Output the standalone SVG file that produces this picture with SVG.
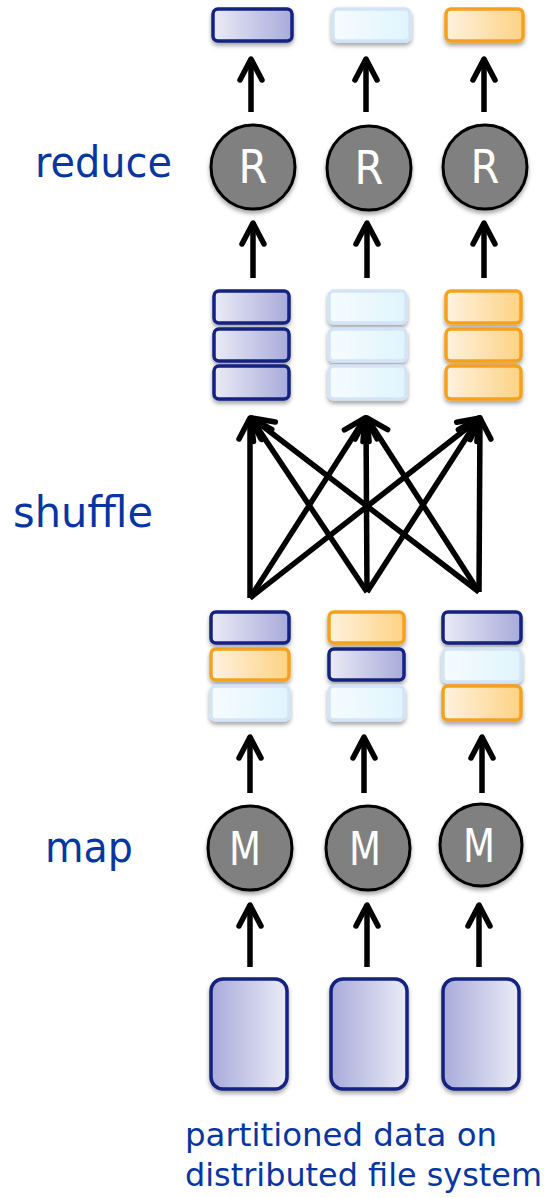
<svg xmlns="http://www.w3.org/2000/svg" width="548" height="1198" viewBox="0 0 548 1198">
  <defs>
    <linearGradient id="gBlue" x1="0" y1="0" x2="1" y2="0">
      <stop offset="0" stop-color="#ebebf6"/>
      <stop offset="1" stop-color="#a8abda"/>
    </linearGradient>
    <linearGradient id="gBlueRev" x1="0" y1="0" x2="1" y2="0">
      <stop offset="0" stop-color="#a8abda"/>
      <stop offset="1" stop-color="#ebebf6"/>
    </linearGradient>
    <linearGradient id="gLight" x1="0" y1="0" x2="1" y2="0">
      <stop offset="0" stop-color="#f6fcff"/>
      <stop offset="1" stop-color="#e0f4fd"/>
    </linearGradient>
    <linearGradient id="gOrange" x1="0" y1="0" x2="1" y2="0">
      <stop offset="0" stop-color="#fff2e0"/>
      <stop offset="1" stop-color="#fdd284"/>
    </linearGradient>
    <filter id="shadow" x="-20%" y="-20%" width="140%" height="160%">
      <feDropShadow dx="0" dy="3" stdDeviation="2" flood-color="#000" flood-opacity="0.35"/>
    </filter>
    <marker id="head" viewBox="-28 -15 32 30" refX="0" refY="0" markerWidth="32" markerHeight="30" markerUnits="userSpaceOnUse" orient="auto">
      <path d="M -21 -11 L 0 0 L -21 11" fill="none" stroke="#000" stroke-width="5.5" stroke-linecap="round" stroke-linejoin="round"/>
    </marker>
    <style>
      .blue { fill: url(#gBlue); stroke: #13217f; stroke-width: 3.5; filter: url(#shadow); }
      .light { fill: url(#gLight); stroke: #d3e4f6; stroke-width: 3.5; filter: url(#shadow); }
      .orange { fill: url(#gOrange); stroke: #f6a11f; stroke-width: 3.5; filter: url(#shadow); }
      .data { fill: url(#gBlueRev); stroke: #13217f; stroke-width: 3.5; filter: url(#shadow); }
      .worker { fill: #808080; stroke: #000; stroke-width: 3; filter: url(#shadow); }
      .letter { fill: #fff; font-family: "DejaVu Sans", sans-serif; font-size: 46px; text-anchor: middle; }
      .label { fill: #0836a0; font-family: "DejaVu Sans", sans-serif; }
      .arrow { fill: none; stroke: #000; stroke-width: 5.5; stroke-linecap: butt; marker-end: url(#head); }
    </style>
  </defs>

  <!-- stage labels -->
  <text class="label" x="35" y="177" font-size="43" textLength="137" lengthAdjust="spacingAndGlyphs">reduce</text>
  <text class="label" x="13" y="527" font-size="43" textLength="140" lengthAdjust="spacingAndGlyphs">shuffle</text>
  <text class="label" x="45" y="862" font-size="43" textLength="88" lengthAdjust="spacingAndGlyphs">map</text>
  <text class="label" x="185" y="1146" font-size="32" textLength="312" lengthAdjust="spacingAndGlyphs">partitioned data on</text>
  <text class="label" x="185" y="1186" font-size="32" textLength="357" lengthAdjust="spacingAndGlyphs">distributed file system</text>

  <!-- connectors -->
  <g id="connectors">
    <!-- reduce outputs -->
    <path class="arrow" d="M 251 112 L 251 59"/>
    <path class="arrow" d="M 366 112 L 366 59"/>
    <path class="arrow" d="M 484 112 L 484 59"/>
    <!-- grouped partitions into reducers -->
    <path class="arrow" d="M 253 278 L 253 223"/>
    <path class="arrow" d="M 367 278 L 367 223"/>
    <path class="arrow" d="M 484 278 L 484 223"/>
    <!-- shuffle: every map output to every reducer -->
    <path class="arrow" d="M 250 598 L 250 418"/>
    <path class="arrow" d="M 250 598 L 365 418"/>
    <path class="arrow" d="M 250 598 L 480 418"/>
    <path class="arrow" d="M 367 592 L 251 418"/>
    <path class="arrow" d="M 367 592 L 366 418"/>
    <path class="arrow" d="M 367 592 L 479 418"/>
    <path class="arrow" d="M 479 592 L 252 418"/>
    <path class="arrow" d="M 479 592 L 367 418"/>
    <path class="arrow" d="M 479 592 L 480 418"/>
    <!-- mappers to their outputs -->
    <path class="arrow" d="M 250 793 L 250 737"/>
    <path class="arrow" d="M 364 793 L 364 737"/>
    <path class="arrow" d="M 482 793 L 482 737"/>
    <!-- input splits into mappers -->
    <path class="arrow" d="M 250 967 L 250 905"/>
    <path class="arrow" d="M 367 967 L 367 905"/>
    <path class="arrow" d="M 479 967 L 479 905"/>
  </g>

  <!-- reduce outputs -->
  <g id="out1"><rect class="blue" x="213" y="9" width="79" height="32" rx="5"/></g>
  <g id="out2"><rect class="light" x="333" y="9" width="77" height="32" rx="5"/></g>
  <g id="out3"><rect class="orange" x="446" y="9" width="77" height="32" rx="5"/></g>

  <!-- reducers -->
  <g id="r1"><circle class="worker" cx="253" cy="167" r="42"/><text class="letter" x="253" y="183" textLength="29" lengthAdjust="spacingAndGlyphs">R</text></g>
  <g id="r2"><circle class="worker" cx="369" cy="168" r="42"/><text class="letter" x="369" y="184" textLength="29" lengthAdjust="spacingAndGlyphs">R</text></g>
  <g id="r3"><circle class="worker" cx="485" cy="167" r="42"/><text class="letter" x="485" y="183" textLength="29" lengthAdjust="spacingAndGlyphs">R</text></g>

  <!-- reducer inputs after shuffle -->
  <g id="in1">
    <rect class="blue" x="214" y="291" width="75" height="32" rx="5"/>
    <rect class="blue" x="214" y="329" width="75" height="32" rx="5"/>
    <rect class="blue" x="214" y="366" width="75" height="33" rx="5"/>
  </g>
  <g id="in2">
    <rect class="light" x="329" y="291" width="77" height="32" rx="5"/>
    <rect class="light" x="329" y="329" width="77" height="32" rx="5"/>
    <rect class="light" x="329" y="366" width="77" height="33" rx="5"/>
  </g>
  <g id="in3">
    <rect class="orange" x="446" y="291" width="75" height="32" rx="5"/>
    <rect class="orange" x="446" y="329" width="75" height="32" rx="5"/>
    <rect class="orange" x="446" y="366" width="75" height="33" rx="5"/>
  </g>

  <!-- map outputs -->
  <g id="mo1">
    <rect class="blue" x="211" y="612" width="78" height="31" rx="5"/>
    <rect class="orange" x="211" y="649" width="78" height="31" rx="5"/>
    <rect class="light" x="211" y="686" width="78" height="34" rx="5"/>
  </g>
  <g id="mo2">
    <rect class="orange" x="329" y="612" width="75" height="31" rx="5"/>
    <rect class="blue" x="329" y="649" width="75" height="31" rx="5"/>
    <rect class="light" x="329" y="686" width="75" height="34" rx="5"/>
  </g>
  <g id="mo3">
    <rect class="blue" x="443" y="612" width="78" height="31" rx="5"/>
    <rect class="light" x="443" y="649" width="78" height="33" rx="5"/>
    <rect class="orange" x="443" y="686" width="78" height="34" rx="5"/>
  </g>

  <!-- mappers -->
  <g id="m1"><circle class="worker" cx="250" cy="848" r="42"/><text class="letter" x="245" y="865" textLength="32" lengthAdjust="spacingAndGlyphs">M</text></g>
  <g id="m2"><circle class="worker" cx="368" cy="848" r="42"/><text class="letter" x="365" y="865" textLength="32" lengthAdjust="spacingAndGlyphs">M</text></g>
  <g id="m3"><circle class="worker" cx="481" cy="845" r="41"/><text class="letter" x="479" y="862" textLength="32" lengthAdjust="spacingAndGlyphs">M</text></g>

  <!-- input partitions -->
  <g id="d1"><rect class="data" x="211" y="979" width="76" height="110" rx="12"/></g>
  <g id="d2"><rect class="data" x="331" y="979" width="76" height="110" rx="12"/></g>
  <g id="d3"><rect class="data" x="443" y="979" width="76" height="110" rx="12"/></g>
</svg>
